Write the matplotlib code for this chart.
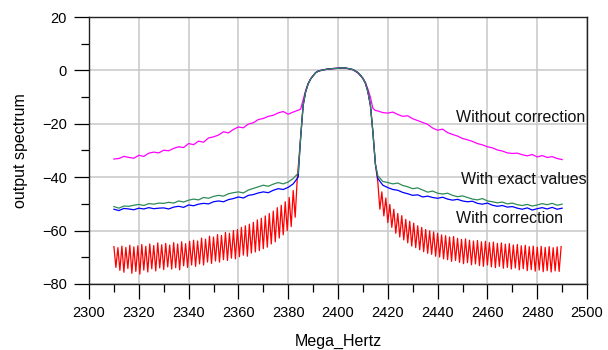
import numpy as np
import matplotlib
matplotlib.use("Agg")
import matplotlib.pyplot as plt
from matplotlib.ticker import MultipleLocator

plt.rcParams['font.family'] = ['Liberation Sans', 'DejaVu Sans']

# frequency grids (MHz)
f_left = np.arange(2310, 2385, 2)
f_right = np.arange(2416, 2491, 2)
f_red_left = 2310 + 0.8 * np.arange(93)
f_red_right = 2416 + 0.8 * np.arange(93)
f_pass = [2385, 2386, 2387, 2388, 2389, 2390, 2391, 2392, 2394, 2396, 2398, 2400,
          2402, 2404, 2406, 2408, 2409, 2410, 2411, 2412, 2413, 2414, 2415]

# passband (all curves nearly overlap here)
pass_mag = [-14.5, -11.0, -7.5, -5.0, -3.2, -2.0, -0.8, -0.2, 0.2, 0.5, 0.6, 0.8,
            0.9, 0.7, 0.2, -1.0, -2.0, -3.0, -4.5, -7.0, -10.0, -14.2, -15.0]
pass_low = [-25.0, -13.0, -8.0, -5.0, -3.2, -2.0, -0.9, -0.3, 0.2, 0.5, 0.7, 0.8,
            1.0, 0.7, 0.3, -0.8, -1.8, -3.0, -4.8, -8.0, -13.0, -23.0, -35.0]

# Without correction (magenta)
mag_left = [-33.2, -33.0, -32.2, -32.6, -32.9, -31.8, -32.2, -31.0, -30.6, -30.9,
            -29.9, -30.1, -29.2, -28.6, -28.9, -27.4, -27.8, -26.5, -26.9, -25.3,
            -24.9, -24.2, -23.0, -23.4, -22.1, -21.2, -21.5, -20.1, -19.6, -18.4,
            -18.0, -17.2, -16.8, -15.9, -15.4, -16.4, -15.6, -14.9]
mag_right = [-15.2, -15.8, -16.0, -15.6, -16.5, -17.2, -17.0, -18.1, -18.8, -19.5,
             -20.2, -21.6, -22.4, -22.0, -23.3, -24.0, -24.6, -25.5, -26.0, -26.6,
             -27.4, -27.9, -28.6, -29.0, -29.8, -30.2, -30.9, -31.1, -31.0, -31.6,
             -32.0, -31.5, -32.4, -31.9, -32.6, -32.3, -33.0, -33.4]

# With exact values (green)
grn_left = [-51.0, -51.6, -50.8, -50.9, -50.5, -50.2, -50.6, -49.9, -50.1, -49.7,
            -49.8, -49.4, -49.7, -48.9, -49.3, -48.6, -48.2, -48.5, -47.6, -47.9,
            -47.2, -46.8, -47.1, -46.2, -45.8, -45.5, -45.9, -44.8, -44.2, -43.6,
            -43.0, -43.4, -42.6, -42.0, -42.5, -41.8, -40.5, -38.5]
grn_right = [-39.5, -41.6, -42.0, -42.5, -42.2, -43.1, -43.6, -44.3, -44.0, -44.8,
             -45.6, -45.2, -46.0, -46.3, -46.0, -46.8, -47.3, -47.0, -47.6, -48.2,
             -48.5, -48.0, -48.9, -49.2, -49.6, -49.3, -50.0, -49.7, -50.3, -50.6,
             -50.2, -50.8, -50.4, -49.9, -50.3, -49.8, -50.5, -50.1]

# With correction (blue)
blu_left = [-52.0, -52.5, -51.7, -51.9, -52.2, -51.6, -51.9, -51.4, -51.8, -51.6,
            -51.5, -51.9, -51.2, -50.9, -51.3, -50.4, -50.7, -50.1, -49.8, -50.0,
            -49.2, -48.9, -49.2, -48.4, -48.0, -47.4, -47.8, -46.8, -46.5, -45.9,
            -45.5, -45.8, -44.9, -44.3, -44.6, -43.8, -42.5, -40.0]
blu_right = [-40.5, -43.0, -43.9, -44.6, -44.9, -45.7, -46.2, -46.8, -46.6, -47.4,
             -47.1, -47.6, -47.9, -47.5, -48.2, -48.6, -48.3, -48.9, -49.2, -49.0,
             -49.8, -50.1, -49.7, -50.5, -50.9, -50.6, -51.2, -51.0, -51.6, -52.0,
             -51.5, -52.3, -51.8, -51.4, -51.9, -51.3, -52.0, -51.6]

# red trace (strong ripple), peak / trough pairs
red_left = [-66.0, -73.8, -66.4, -74.9, -65.8, -75.6, -66.3, -74.2, -65.5, -76.0,
            -66.1, -75.3, -65.7, -76.3, -65.2, -74.8, -65.9, -75.5, -65.0, -74.3,
            -65.6, -75.1, -64.6, -74.0, -65.3, -74.6, -64.8, -73.6, -65.4, -74.4,
            -64.5, -73.9, -65.0, -74.7, -64.2, -73.2, -64.9, -73.8, -64.0, -72.9,
            -63.6, -73.4, -63.9, -72.5, -62.8, -72.9, -63.2, -71.8, -62.1, -72.3,
            -62.4, -71.4, -61.5, -71.8, -61.8, -70.9, -60.7, -71.2, -61.0, -70.3,
            -60.0, -70.6, -59.6, -69.8, -58.8, -69.2, -58.2, -69.6, -57.6, -68.4,
            -56.9, -68.0, -56.0, -67.5, -55.4, -66.8, -54.5, -66.2, -53.6, -65.0,
            -52.7, -64.2, -51.4, -62.8, -50.5, -61.6, -49.2, -60.0, -47.6, -58.5,
            -45.0, -55.0, -41.0]
red_right = [-42.0, -52.0, -45.5, -54.5, -47.8, -57.0, -50.2, -58.8, -52.0, -61.0,
             -53.6, -62.4, -54.4, -63.5, -55.8, -64.6, -56.5, -65.8, -57.2, -66.4,
             -58.2, -67.2, -58.8, -67.9, -59.6, -68.5, -60.1, -68.9, -60.5, -69.6,
             -61.0, -69.9, -61.6, -70.6, -61.9, -70.9, -62.4, -71.5, -62.2, -71.2,
             -62.9, -71.9, -63.3, -72.4, -63.1, -72.0, -63.6, -72.8, -63.9, -72.5,
             -63.7, -73.1, -64.2, -73.4, -64.0, -72.9, -64.5, -73.6, -64.3, -73.9,
             -64.8, -73.4, -64.6, -74.1, -65.1, -73.8, -64.9, -74.4, -65.4, -74.0,
             -65.2, -74.7, -65.7, -74.3, -65.5, -75.0, -66.0, -74.6, -65.8, -75.2,
             -66.2, -74.8, -65.9, -75.4, -66.3, -75.0, -66.0, -75.5, -66.4, -75.1,
             -66.1, -75.3, -66.0]

labels = ['Without correction', 'With exact values', 'With correction']
label_x = [2447.5, 2449.5, 2447.5]
label_y = [-17.8, -41.0, -55.3]

fig = plt.figure(figsize=(6.08, 3.5), dpi=100)
ax = fig.add_axes([0.1464, 0.1886, 0.8191, 0.7628])

ax.plot(np.concatenate([f_left, f_pass, f_right]), mag_left + pass_mag + mag_right,
        color='#ff00ff', lw=0.9)
ax.plot(np.concatenate([f_red_left, f_pass, f_red_right]), red_left + pass_low + red_right,
        color='#ff0000', lw=0.9)
ax.plot(np.concatenate([f_left, f_pass, f_right]), blu_left + pass_low + blu_right,
        color='#0000ff', lw=0.9)
ax.plot(np.concatenate([f_left, f_pass, f_right]), grn_left + pass_low + grn_right,
        color='#2e8b57', lw=0.9)

for t, x, y in zip(labels, label_x, label_y):
    ax.text(x, y, t, fontsize=11.5, ha='left', va='center', color='#111111')

ax.set_xlim(2300, 2500)
ax.set_ylim(-80, 20)
ax.xaxis.set_major_locator(MultipleLocator(20))
ax.xaxis.set_minor_locator(MultipleLocator(10))
ax.yaxis.set_major_locator(MultipleLocator(20))
ax.yaxis.set_minor_locator(MultipleLocator(10))
ax.grid(True, which='major', color='#c8c8c8', lw=1.1)
ax.set_axisbelow(True)
ax.tick_params(axis='both', which='major', length=11, width=0.9, labelsize=10.5, pad=5)
ax.tick_params(axis='both', which='minor', length=5.5, width=0.9)
ax.tick_params(top=False, right=False)
for s in ax.spines.values():
    s.set_linewidth(1.0)
    s.set_color('#222222')

ax.set_xlabel('Mega_Hertz', fontsize=11.5, labelpad=10)
ax.set_ylabel('output spectrum', fontsize=11.5, labelpad=10)

plt.savefig('out.png', dpi=100)
plt.close()
